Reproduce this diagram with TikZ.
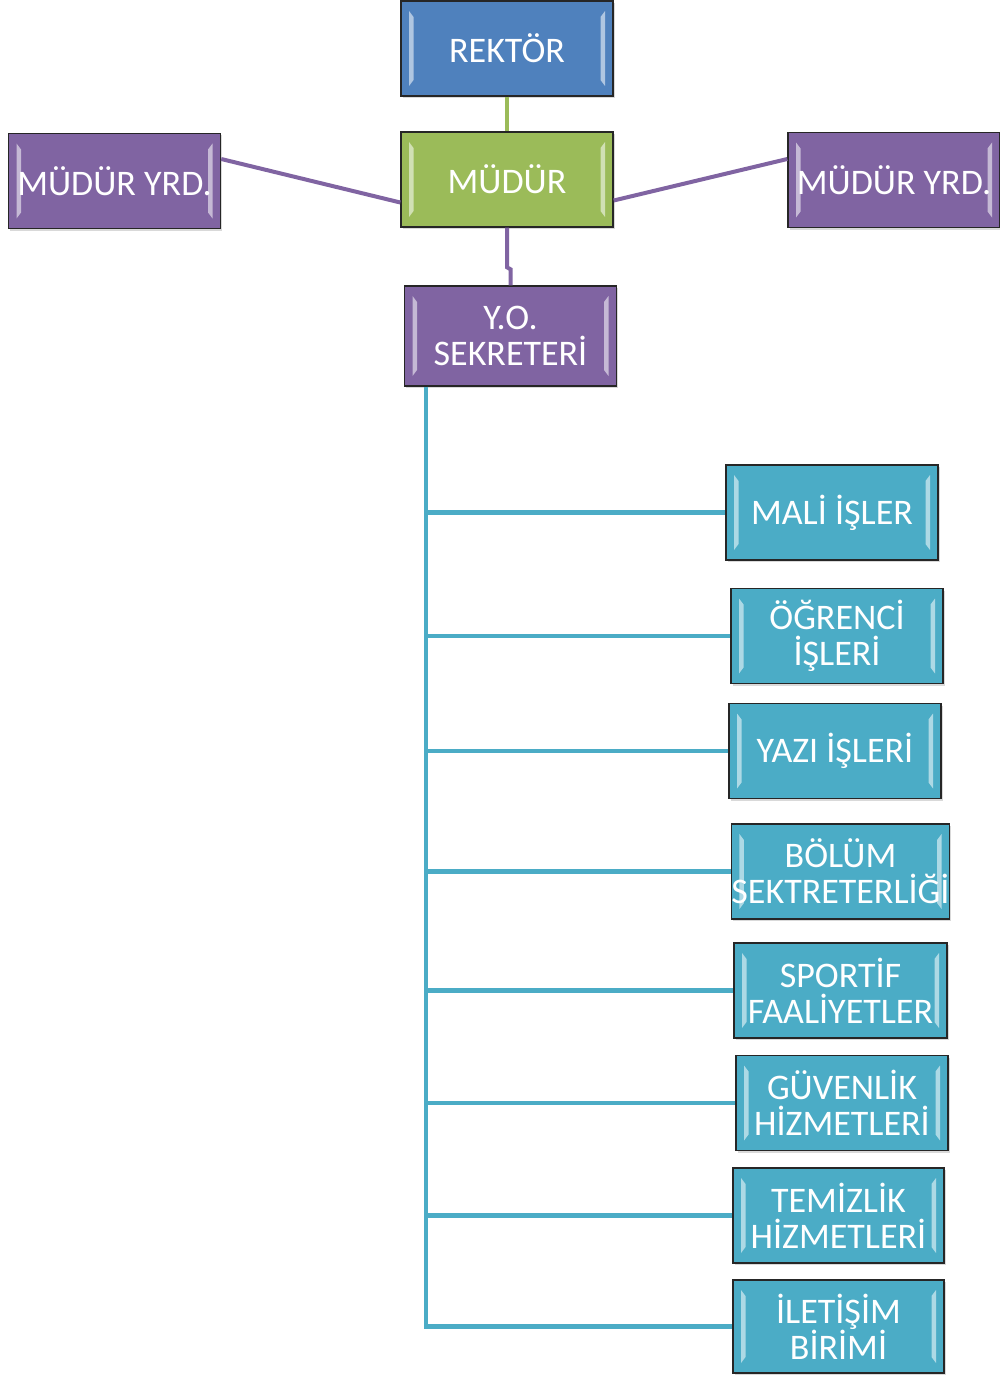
\documentclass[tikz,border=0pt]{standalone}
\usepackage{fontspec}
\setmainfont{Carlito}
\usetikzlibrary{shadows,calc}
\definecolor{cblue}{HTML}{4F81BD}
\definecolor{cgreen}{HTML}{9BBB59}
\definecolor{cpurple}{HTML}{8064A2}
\definecolor{cteal}{HTML}{4BACC6}
\tikzset{
  orgbox/.style={rectangle, fill=#1, draw=black!85, line width=1.4pt,
    minimum width=212pt, minimum height=95pt, inner sep=0pt,
    text=white, align=center,
    font=\fontsize{36}{36}\selectfont,
    drop shadow={opacity=0.3, shadow xshift=1.5pt, shadow yshift=-2pt},
    path picture={
      \fill[white,opacity=0.55]
        ([xshift=8pt,yshift=-10pt]path picture bounding box.north west) --
        ([xshift=12.5pt,yshift=-16pt]path picture bounding box.north west) --
        ([xshift=12.5pt,yshift=16pt]path picture bounding box.south west) --
        ([xshift=8pt,yshift=10pt]path picture bounding box.south west) -- cycle;
      \fill[white,opacity=0.55]
        ([xshift=-8pt,yshift=-10pt]path picture bounding box.north east) --
        ([xshift=-12.5pt,yshift=-16pt]path picture bounding box.north east) --
        ([xshift=-12.5pt,yshift=16pt]path picture bounding box.south east) --
        ([xshift=-8pt,yshift=10pt]path picture bounding box.south east) -- cycle;
    }},
  gline/.style={draw=cgreen, line width=4pt},
  pline/.style={draw=cpurple, line width=4pt},
  tline/.style={draw=cteal, line width=4.5pt}
}
\begin{document}
\begin{tikzpicture}[x=1pt,y=-1pt]
\useasboundingbox (0,0) rectangle (999,1375);
% top level
\node[orgbox=cblue] (r) at (507,48.5) {REKTÖR};
\node[orgbox=cgreen] (m) at (507,179.5) {MÜDÜR};
\node[orgbox=cpurple] (ly) at (114.5,181) {MÜDÜR YRD.};
\node[orgbox=cpurple] (ry) at (894,180) {MÜDÜR YRD.};
\node[orgbox=cpurple, minimum height=100pt] (y) at (510.5,336) {Y.O.\\SEKRETERİ};
% children
\node[orgbox=cteal] (c1) at (832,512.5) {MALİ İŞLER};
\node[orgbox=cteal] (c2) at (837,636) {ÖĞRENCİ\\İŞLERİ};
\node[orgbox=cteal] (c3) at (835,751) {YAZI İŞLERİ};
\node[orgbox=cteal, minimum width=215pt] (c4) at (840.5,871.5) {BÖLÜM\\SEKTRETERLİĞİ};
\node[orgbox=cteal, minimum width=213pt] (c5) at (840.5,990.5) {SPORTİF\\FAALİYETLER};
\node[orgbox=cteal] (c6) at (842,1103) {GÜVENLİK\\HİZMETLERİ};
\node[orgbox=cteal, minimum width=211pt] (c7) at (838.5,1215.5) {TEMİZLİK\\HİZMETLERİ};
\node[orgbox=cteal, minimum width=211pt, minimum height=93pt] (c8) at (838.5,1326.5) {İLETİŞİM\\BİRİMİ};
% connectors
\draw[gline] (r.south) -- (m.north);
\draw[pline] ([yshift=22pt]ly.east) -- ([yshift=-23pt]m.west);
\draw[pline] ([yshift=-21pt]m.east) -- ([yshift=21pt]ry.west);
\draw[pline] (m.south) -- ([yshift=18pt]y.north -| m.south) -- ([yshift=16pt]y.north) -- (y.north);
\coordinate (sp) at ([xshift=-84.5pt]y.south);
\draw[tline] (sp) -- (c8.west -| sp) -- (c8.west);
\foreach \c in {c1,c2,c3,c4,c5,c6,c7}{
  \draw[tline] (\c.west -| sp) -- (\c.west);
}
\end{tikzpicture}
\end{document}
